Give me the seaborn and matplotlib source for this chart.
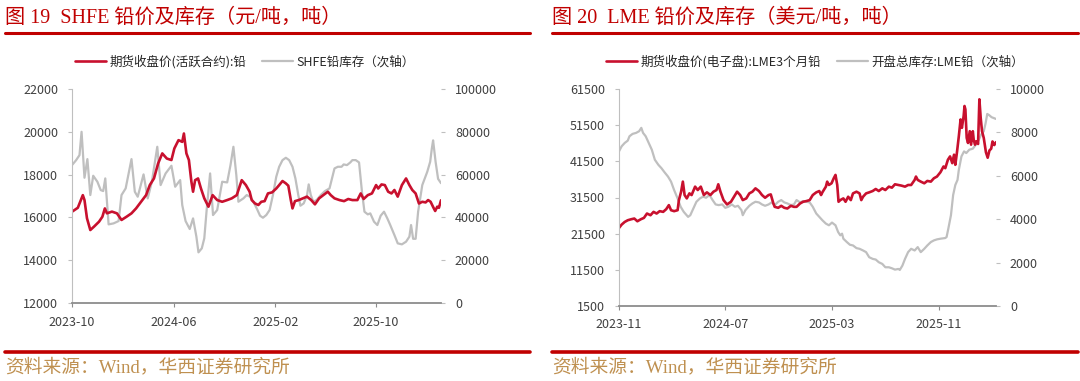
import pandas as pd
import matplotlib.pyplot as plt
import matplotlib.dates as mdates
from matplotlib.lines import Line2D
import seaborn as sns

# ---------------- 数据 ----------------
# 图19 SHFE：天数以 2023-10-01 为起点
shfe_start = "2023-10-01"
shfe_price_days = [0, 14, 26, 30, 36, 44, 53, 65, 73, 79, 84, 96, 108, 119, 131, 143, 154, 166, 178, 187,
                   197, 207, 217, 228, 239, 246, 256, 265, 269, 275, 281, 287, 291, 296, 303, 310, 318, 328,
                   338, 349, 361, 373, 384, 396, 408, 418, 427, 432, 440, 448, 455, 463, 471, 481, 491, 498,
                   506, 514, 520, 526, 530, 536, 545, 555, 565, 575, 584, 594, 604, 615, 622, 631, 643, 654,
                   664, 674, 686, 694, 701, 711, 721, 731, 736, 744, 752, 760, 768, 775, 783, 793, 803, 811,
                   818, 826, 834, 842, 850, 856, 862, 869, 873, 878, 882, 887]
shfe_price = [16265, 16450, 17040, 16810, 15960, 15410, 15570, 15800, 16030, 16420, 16190, 16270, 16190, 15880,
              16030, 16190, 16420, 16730, 17040, 17510, 17820, 18520, 18990, 18750, 18680, 19220, 19610, 19530,
              19920, 18990, 18680, 17670, 17200, 17740, 17820, 17350, 16890, 16500, 17040, 16810, 16730, 16810,
              16890, 17040, 17740, 17510, 17200, 16810, 16650, 16580, 16730, 16760, 17120, 17170, 17350, 17510,
              17700, 17590, 17480, 16810, 16420, 16760, 16810, 16890, 16970, 16810, 16610, 16890, 17040, 17200,
              17040, 16890, 16810, 16760, 16860, 16810, 16810, 17120, 16860, 17040, 17120, 17510, 17350, 17540,
              17510, 17200, 17120, 17280, 16970, 17510, 17820, 17510, 17280, 17120, 16650, 16730, 16700, 16810,
              16730, 16450, 16300, 16500, 16450, 16800]
shfe_stock_days = [0, 10, 18, 23, 30, 37, 44, 51, 61, 69, 75, 80, 88, 100, 112, 119, 129, 143, 151, 158,
                   172, 182, 192, 205, 213, 225, 239, 248, 260, 265, 273, 283, 291, 299, 304, 312, 318, 324,
                   332, 339, 349, 361, 373, 381, 388, 395, 400, 412, 420, 428, 436, 444, 452, 459, 467, 475,
                   483, 491, 498, 506, 514, 522, 530, 537, 544, 549, 557, 565, 569, 574, 580, 588, 598, 608,
                   619, 625, 631, 639, 648, 653, 661, 669, 674, 682, 690, 697, 703, 711, 717, 726, 734, 742,
                   750, 758, 765, 775, 783, 793, 803, 811, 815, 820, 826, 832, 842, 854, 861, 865, 868, 874,
                   880, 887]
shfe_stock = [64440, 66770, 69100, 80000, 58530, 67240, 50440, 59460, 56660, 52770, 52300, 58220, 36740, 37210,
              38300, 50440, 53550, 67240, 52000, 49660, 60100, 48880, 56660, 73000, 55100, 60550, 64130, 54330,
              57440, 45770, 38300, 34570, 39540, 30990, 23670, 25540, 30210, 44210, 60550, 41100, 43440, 56660,
              56350, 64440, 73000, 59770, 47320, 48880, 50440, 49660, 47320, 44210, 40790, 39850, 41100, 43440,
              50440, 59000, 63660, 66770, 67860, 66770, 63660, 58220, 50440, 45460, 46550, 50440, 55420, 50440,
              47320, 48100, 50440, 52300, 53550, 58220, 62880, 63660, 63660, 64750, 64440, 65690, 66770, 66770,
              65690, 52000, 42660, 41410, 41880, 37990, 36430, 40790, 42660, 39540, 36430, 31760, 27870, 27400,
              28650, 31000, 36430, 30000, 30000, 42660, 55100, 61330, 66000, 72220, 76000, 66000, 58000, 56000]

# 图20 LME：天数以 2023-11-01 为起点
lme_start = "2023-11-01"
lme_price_days = [0, 6, 13, 20, 28, 35, 42, 50, 57, 64, 72, 79, 86, 93, 101, 108, 114, 119, 126, 134, 137,
                  142, 146, 150, 155, 161, 166, 174, 180, 187, 194, 201, 209, 216, 223, 227, 232, 239, 247,
                  256, 263, 270, 277, 283, 291, 298, 305, 312, 320, 327, 334, 342, 347, 353, 356, 364, 371,
                  378, 385, 393, 400, 406, 414, 421, 428, 436, 443, 451, 458, 462, 465, 473, 476, 480, 486,
                  491, 495, 499, 502, 506, 513, 518, 524, 530, 535, 543, 550, 554, 558, 565, 572, 580, 587,
                  594, 602, 609, 617, 624, 631, 639, 646, 654, 661, 668, 676, 679, 683, 690, 698, 705, 713,
                  720, 727, 735, 742, 746, 752, 757, 762, 766, 769, 773, 777, 781, 784, 788, 790, 792, 795,
                  798, 802, 805, 809, 811, 814, 817, 821, 824, 827, 830, 834, 839, 843, 847, 851, 854, 858, 862]
lme_price = [23070, 24000, 24740, 25210, 25490, 25680, 24930, 25490, 25860, 27070, 26600, 27530, 27070, 27720,
             27530, 28280, 29390, 27990, 27720, 27990, 30780, 33100, 35890, 32180, 31250, 32640, 32180, 34500,
             33570, 34500, 32180, 32920, 32180, 33100, 33570, 35150, 33100, 30780, 29580, 30320, 31710, 33100,
             32180, 30780, 31250, 32640, 33100, 34030, 33290, 32180, 31430, 32180, 32360, 29850, 28920, 28650,
             29200, 28650, 28460, 29200, 28920, 28920, 29850, 30320, 30500, 30780, 32180, 32920, 33290, 32180,
             32920, 34500, 35890, 34960, 35430, 36820, 37750, 34960, 30320, 30780, 31250, 30320, 31710, 30780,
             32640, 33100, 32640, 30780, 31710, 32640, 32920, 33290, 33850, 33290, 34030, 33570, 34500, 34220,
             35150, 34960, 34780, 34500, 34960, 34960, 36360, 37290, 36360, 35890, 35430, 36080, 35890, 36820,
             37290, 38490, 40070, 39610, 41930, 42860, 41000, 43330, 40540, 44260, 48430, 53080, 50760, 54010,
             56800, 55870, 47970, 46580, 49830, 46110, 49830, 47510, 46110, 47040, 46300, 58650, 53540, 49830,
             47970, 44000, 42500, 44500, 45000, 47000, 46000, 46800]
lme_stock_days = [0, 6, 13, 20, 24, 31, 39, 46, 51, 55, 61, 68, 75, 82, 90, 97, 104, 112, 119, 126, 134,
                  141, 148, 158, 163, 170, 177, 185, 192, 199, 207, 214, 221, 228, 236, 243, 250, 258, 265,
                  272, 280, 283, 289, 298, 305, 312, 320, 327, 334, 342, 349, 356, 364, 371, 378, 385, 393,
                  400, 406, 414, 421, 428, 436, 443, 451, 458, 465, 473, 480, 487, 495, 501, 506, 510, 513,
                  521, 528, 535, 543, 550, 558, 565, 572, 580, 587, 594, 602, 609, 617, 624, 631, 639, 642,
                  648, 654, 661, 668, 676, 683, 690, 698, 705, 713, 720, 727, 735, 746, 749, 753, 759, 764,
                  769, 774, 777, 783, 789, 794, 801, 809, 816, 823, 828, 834, 838, 842, 846, 852, 858, 862]
lme_stock = [7126, 7358, 7513, 7621, 7822, 7931, 7977, 8054, 8209, 7977, 7822, 7513, 7203, 6739, 6506, 6352,
             6166, 5965, 5732, 5345, 4958, 4572, 4339, 4107, 4184, 4494, 4804, 4958, 5036, 4989, 5113, 4881,
             4680, 4649, 4680, 4525, 4572, 4680, 4572, 4618, 4417, 4184, 4417, 4618, 4726, 4804, 4773, 4680,
             4618, 4680, 4773, 4649, 4804, 4881, 4773, 4726, 4649, 4680, 4881, 4773, 4835, 4804, 4773, 4572,
             4262, 4107, 3952, 3797, 3720, 3844, 3720, 3410, 3256, 3333, 3101, 2946, 2822, 2791, 2667, 2636,
             2559, 2482, 2249, 2172, 2141, 2017, 1940, 1785, 1785, 1738, 1677, 1708, 1661, 1862, 2172, 2482,
             2636, 2559, 2714, 2482, 2636, 2791, 2946, 3023, 3070, 3101, 3132, 3178, 3565, 4184, 5113, 5578,
             5810, 6274, 6893, 7126, 7048, 7203, 7250, 7435, 7668, 7900, 8054, 8400, 8850, 8800, 8700, 8650, 8620]

shfe_ticks = ["2023-10-01", "2024-06-01", "2025-02-01", "2025-10-01"]
lme_ticks = ["2023-11-01", "2024-07-01", "2025-03-01", "2025-11-01"]

# ---------------- 样式 ----------------
sns.set_theme(style="white")
plt.rcParams['font.family'] = ['Noto Sans CJK SC', 'DejaVu Sans']
plt.rcParams['axes.unicode_minus'] = False

RED = '#C8102E'
GRAY = '#BFBFBF'
TITLE_RED = '#C00000'
SRC_COLOR = '#BF9050'
SERIF = ['Liberation Serif', 'Noto Sans CJK SC']


def make_df(start, days, values):
    return pd.DataFrame({'date': pd.Timestamp(start) + pd.to_timedelta(days, unit='D'), 'value': values})


fig = plt.figure(figsize=(10.8, 3.81), dpi=100)
W, H = 1080, 381


def panel(box, start, ticks, price_df, stock_df, ylim1, step1, ylim2, step2, labels, leg_x):
    l, t, r, b = box
    ax = fig.add_axes([l / W, 1 - b / H, (r - l) / W, (b - t) / H])
    ax2 = ax.twinx()
    sns.lineplot(data=stock_df, x='date', y='value', ax=ax2, color=GRAY, lw=1.6)
    sns.lineplot(data=price_df, x='date', y='value', ax=ax, color=RED, lw=1.9)
    ax.set_zorder(ax2.get_zorder() + 1)
    ax.patch.set_visible(False)

    ax.set_xlim(pd.Timestamp(start), price_df['date'].max())
    ax.set_xticks(pd.to_datetime(ticks))
    ax.xaxis.set_major_formatter(mdates.DateFormatter('%Y-%m'))
    ax.set_ylim(*ylim1)
    ax.set_yticks(range(ylim1[0], ylim1[1] + 1, step1))
    ax2.set_ylim(*ylim2)
    ax2.set_yticks(range(ylim2[0], ylim2[1] + 1, step2))
    for a in (ax, ax2):
        a.set_xlabel('')
        a.set_ylabel('')
        for s in a.spines.values():
            s.set_visible(False)
    ax.spines['left'].set_visible(True)
    ax.spines['left'].set_color('#BFBFBF')
    ax.spines['left'].set_linewidth(0.8)
    ax.spines['bottom'].set_visible(True)
    ax.spines['bottom'].set_color('#8C8C8C')
    ax.spines['bottom'].set_linewidth(1.3)
    ax.tick_params(axis='y', left=True, length=3, width=0.8, color='#BFBFBF',
                   labelsize=9, labelcolor='#404040', pad=7)
    ax.tick_params(axis='x', bottom=True, length=3, width=0.8, color='#8C8C8C',
                   labelsize=9, labelcolor='#404040', pad=6)
    ax2.tick_params(axis='y', right=True, length=3, width=0.8, color='#BFBFBF',
                    labelsize=9, labelcolor='#404040', pad=7)

    handles = [Line2D([], [], color=RED, lw=1.9), Line2D([], [], color=GRAY, lw=1.6)]
    fig.legend(handles, labels, loc='center', bbox_to_anchor=(leg_x / W, 1 - 62 / H), ncol=2,
               frameon=False, fontsize=9, handlelength=2.5, handletextpad=0.3, columnspacing=1.2)


panel((72, 89, 441, 303), shfe_start, shfe_ticks,
      make_df(shfe_start, shfe_price_days, shfe_price), make_df(shfe_start, shfe_stock_days, shfe_stock),
      (12000, 22000), 2000, (0, 100000), 20000,
      ['期货收盘价(活跃合约):铅', 'SHFE铅库存（次轴）'], 245)
panel((619, 89, 996, 306), lme_start, lme_ticks,
      make_df(lme_start, lme_price_days, lme_price), make_df(lme_start, lme_stock_days, lme_stock),
      (1500, 61500), 10000, (0, 10000), 2000,
      ['期货收盘价(电子盘):LME3个月铅', '开盘总库存:LME铅（次轴）'], 815)

# 标题、分隔线、资料来源
for x0, x1, title in [(5, 530, '图 19  SHFE 铅价及库存（元/吨，吨）'),
                      (552, 1078, '图 20  LME 铅价及库存（美元/吨，吨）')]:
    fig.text(x0 / W, 1 - 18 / H, title, color=TITLE_RED, fontsize=14.5, family=SERIF, va='center', ha='left')
    fig.add_artist(Line2D([x0 / W, x1 / W], [1 - 33 / H, 1 - 33 / H], color=TITLE_RED, lw=2.2,
                          transform=fig.transFigure))
    fig.add_artist(Line2D([x0 / W, x1 / W], [1 - 352 / H, 1 - 352 / H], color=TITLE_RED, lw=2.6,
                          transform=fig.transFigure))
    fig.text(x0 / W, 1 - 367 / H, '资料来源：Wind，华西证券研究所', color=SRC_COLOR, fontsize=13.5,
             family=SERIF, va='center', ha='left')

fig.savefig('out.png', dpi=100)
